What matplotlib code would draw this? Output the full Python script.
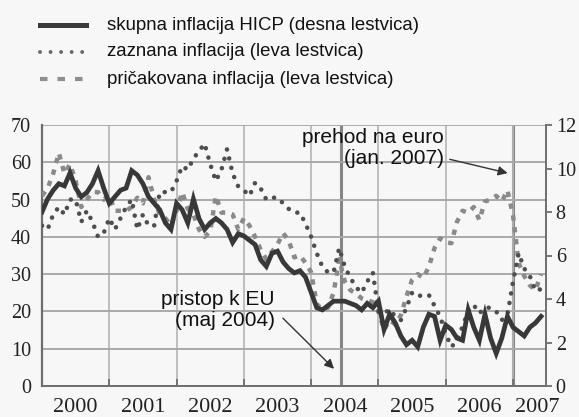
import matplotlib
matplotlib.use('Agg')
import matplotlib.pyplot as plt
from matplotlib.lines import Line2D
import numpy as np

# ---------------- data ----------------
start_year = 2000
year_labels = ['2000', '2001', '2002', '2003', '2004', '2005', '2006', '2007']

# HICP headline inflation (right scale, %), monthly Jan 2000 - Jun 2007
hicp = [8.0, 8.6, 9.0, 9.3, 9.2, 9.8, 9.1, 8.7, 8.9, 9.3, 9.9, 9.1,
        8.4, 8.7, 9.0, 9.1, 9.9, 9.7, 9.3, 8.7, 8.4, 8.1, 7.5, 7.2,
        8.4, 8.1, 7.5, 8.6, 7.7, 7.2, 7.5, 7.7, 7.5, 7.2, 6.6, 7.0,
        6.9, 6.7, 6.5, 5.8, 5.5, 6.1, 6.2, 5.7, 5.4, 5.2, 5.3, 5.0,
        4.3, 3.6, 3.5, 3.7, 3.9, 3.9, 3.9, 3.8, 3.7, 3.5, 3.8, 3.6,
        3.9, 2.6, 3.3, 2.9, 2.3, 1.9, 2.1, 1.8, 2.7, 3.3, 3.2, 2.1,
        2.8, 2.6, 2.2, 2.1, 3.5, 2.7, 2.1, 3.3, 2.2, 1.5, 2.2, 3.2,
        2.7, 2.5, 2.3, 2.7, 2.9, 3.2]

# perceived inflation (left scale)
perceived = [43, 42, 46, 48, 46, 50, 50, 44, 47, 44, 40, 41,
             45, 42, 45, 48, 50, 42, 46, 43, 43, 52, 52, 52,
             55, 59, 58, 61, 63, 65, 59.5, 55, 58, 63.5, 57, 53.5,
             52.5, 51, 54.5, 53, 50, 50.5, 50.5, 49, 47.5, 46.5, 46.5, 43.5,
             40, 35.6, 32, 30.5, 30.5, 37, 32, 29, 26.5, 25, 28, 30.4,
             20, 19.4, 20.6, 18.6, 17.7, 21, 25, 24, 24.5, 24.4, 21.5, 18.6,
             14, 10.5, 12, 16, 20, 21.7, 19.5, 21, 21, 20, 17.7, 19,
             28, 35.6, 31.5, 29.5, 25.5, 26]

# expected inflation (left scale)
expected = [51, 53, 57, 62.5, 57, 59.5, 55, 48, 50, 52, 52, 50,
            51, 47, 47, 47, 48, 50.5, 49, 56, 50, 46, 45, 43,
            47, 52, 47.5, 46, 42, 40, 41.5, 51, 46.5, 46.5, 46, 42,
            45, 43, 40, 36.5, 34, 36, 38, 41, 39, 34.5, 35, 33,
            30.5, 22, 20.5, 21, 25, 34, 28, 25.7, 24.8, 23.5, 23, 22.5,
            20, 15, 17.7, 16.5, 19, 24, 28.5, 30, 29, 32, 37, 39.6,
            38.5, 38.3, 44, 47, 46.5, 48, 44.5, 49.5, 50, 51, 49.5, 52.5,
            45.8, 33, 29.5, 27, 25.7, 30]

# events (decimal years)
event_years = [2004 + 5.4 / 12, 2007.0]
event_labels = ['pristop k EU\n(maj 2004)', 'prehod na euro\n(jan. 2007)']

legend_labels = ['skupna inflacija HICP (desna lestvica)',
                 'zaznana inflacija (leva lestvica)',
                 'pričakovana inflacija (leva lestvica)']

# ---------------- figure ----------------
bg = '#f7f7f7'
W, H = 579, 417
fig = plt.figure(figsize=(W / 100, H / 100), dpi=100, facecolor=bg)

L, R, B, T = 42, 546, 386, 125
ax = fig.add_axes([L / W, 1 - B / H, (R - L) / W, (B - T) / H])
ax.set_facecolor(bg)
ax2 = ax.twinx()

x = start_year + np.arange(len(hicp)) / 12.0
ax.set_xlim(2000.0, 2007.49)
ax.set_ylim(0, 70)
ax2.set_ylim(0, 12)

grid_c = '#a9a9a9'
# grid
ax.set_yticks(np.arange(0, 71, 10))
ax.set_xticks(np.arange(2000, 2008))
ax.grid(True, axis='y', color=grid_c, lw=1.4, zorder=0)
ax.grid(True, axis='x', color='#b4b4b4', lw=1.2, zorder=0)
for ev in event_years:
    ax.axvline(ev, color='#858585', lw=2.2, zorder=1)

serif = ['Liberation Serif', 'DejaVu Serif']
sans = ['Liberation Sans', 'DejaVu Sans']

# series
ax.plot(x, expected, color='#8a8a8a', lw=3.2, linestyle=(0, (1.2, 1.5)),
        dash_capstyle='butt', zorder=3)
ax.plot(x, perceived, color='#4e4e4e', lw=3.3, linestyle=(0, (0.01, 2.1)),
        dash_capstyle='round', zorder=4)
ax2.plot(x, hicp, color='#383838', lw=3.4, solid_joinstyle='miter', zorder=5)

# spines
for s in ['top']:
    ax.spines[s].set_visible(False)
    ax2.spines[s].set_visible(False)
ax.spines['left'].set_color('#6e6e6e')
ax.spines['left'].set_linewidth(1.6)
ax2.spines['left'].set_visible(False)
ax.spines['right'].set_visible(False)
ax2.spines['right'].set_color('#6e6e6e')
ax2.spines['right'].set_linewidth(1.4)
ax.spines['bottom'].set_color('#6e6e6e')
ax.spines['bottom'].set_linewidth(1.4)
ax2.spines['bottom'].set_visible(False)

# ticks
ax.tick_params(axis='y', length=0, pad=8, labelsize=14.5, labelcolor='#222222')
ax.set_yticklabels([str(v) for v in range(0, 71, 10)], family=serif)
ax.tick_params(axis='x', which='major', direction='in', length=5, width=1.3,
               color='#6e6e6e', labelbottom=False)
ax.set_xticks([2000.5, 2001.5, 2002.5, 2003.5, 2004.5, 2005.5, 2006.5, 2007.36],
              minor=True)
ax.set_xticklabels(year_labels, minor=True, family=serif)
ax.tick_params(axis='x', which='minor', length=0, pad=9, labelsize=16,
               labelcolor='#222222')
ax2.set_yticks(np.arange(0, 13, 2))
ax2.set_yticklabels([str(v) for v in range(0, 13, 2)], family=serif)
ax2.tick_params(axis='y', direction='out', length=4, width=1.3, color='#6e6e6e',
                pad=3, labelsize=14.5, labelcolor='#222222')

# annotations
arrow = dict(arrowstyle='-|>', lw=1.0, color='#333333', mutation_scale=14,
             shrinkA=0, shrinkB=0)
ax.annotate('', xy=(2004.34, 4.6), xytext=(2003.58, 18.2), arrowprops=arrow, zorder=6)
ax.text(2003.46, 20.3, event_labels[0], ha='right', va='center', fontsize=15,
        family=sans, color='#111111', linespacing=1.15, zorder=6)
ax.annotate('', xy=(2006.92, 57.1), xytext=(2006.06, 60.8), arrowprops=arrow, zorder=6)
ax.text(2005.97, 63.9, event_labels[1], ha='right', va='center', fontsize=15,
        family=sans, color='#111111', linespacing=1.15, zorder=6)

# legend (manual)
rows_y = [25, 52, 79]
styles = [dict(color='#3a3a3a', lw=3.6, linestyle='-'),
          dict(color='#666666', lw=2.8, linestyle=(0, (0.01, 2.7)), dash_capstyle='round'),
          dict(color='#8e8e8e', lw=3.0, linestyle=(0, (1.8, 2.4)), dash_capstyle='butt')]
for yy, st, lab in zip(rows_y, styles, legend_labels):
    fy = 1 - yy / H
    fig.add_artist(Line2D([40 / W, 86 / W], [fy, fy], transform=fig.transFigure, **st))
    fig.text(107 / W, fy, lab, ha='left', va='center', fontsize=13.4,
             family=sans, color='#111111')

fig.savefig('out.png', dpi=100, facecolor=bg)
